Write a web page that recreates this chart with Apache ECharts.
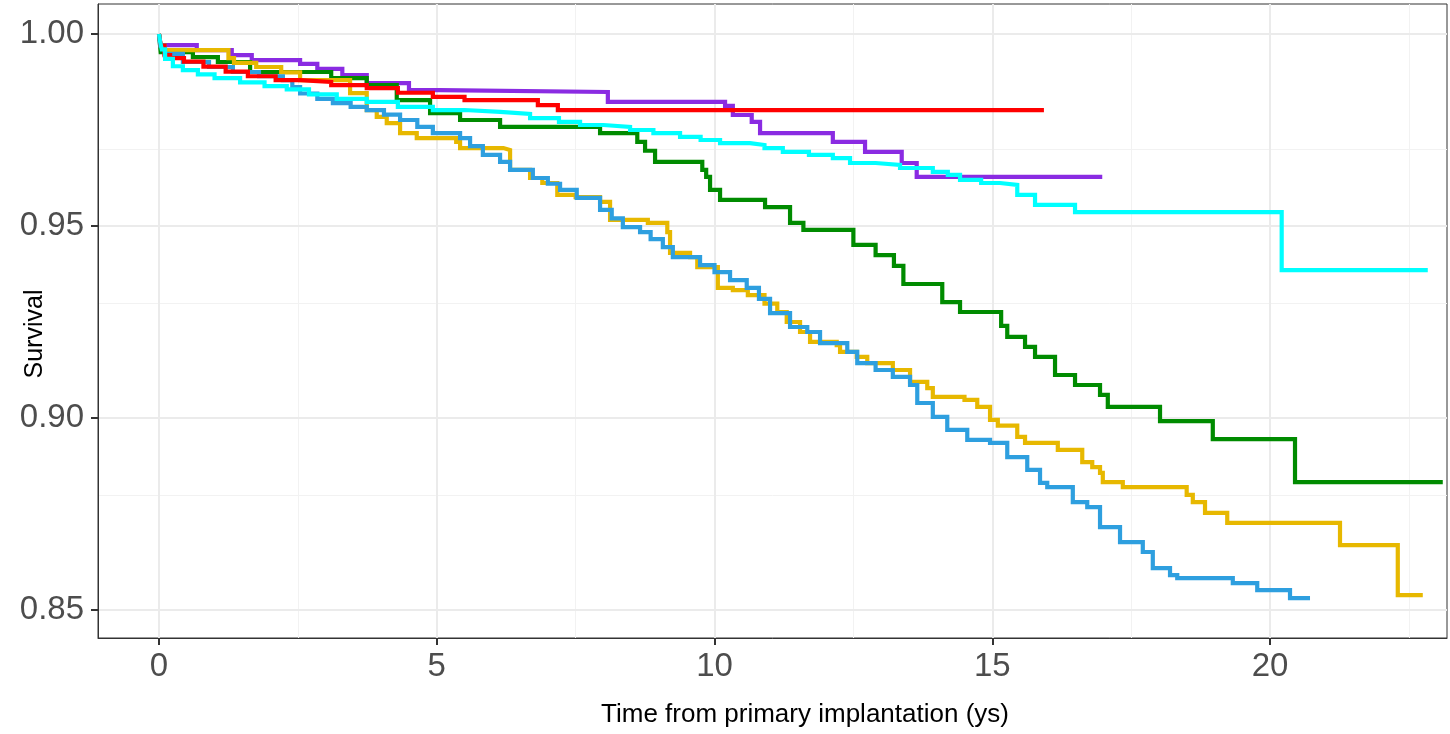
<!DOCTYPE html>
<html>
<head>
<meta charset="utf-8">
<script src="https://cdn.jsdelivr.net/npm/echarts@6/dist/echarts.min.js"></script>
<style>
html,body{margin:0;padding:0;background:#fff;}
#chart{width:1450px;height:734px;}
</style>
</head>
<body>
<div id="chart"></div>
<script>
// ---- data (time in years, survival) ----
const xTicks = [0, 5, 10, 15, 20];
const xMinor = [2.5, 7.5, 12.5, 17.5, 22.5];
const yTicks = [0.85, 0.90, 0.95, 1.00];
const yMinor = [0.875, 0.925, 0.975];

const redData = [[0,1],[0.03,0.997],[0.1,0.9945],[0.2,0.9937],[0.45,0.9928],[0.8,0.9915],[1.2,0.9902],[1.6,0.989],[2.1,0.988],[2.54,0.9875],[3.1,0.9867],[3.74,0.9859],[4.3,0.9847],[4.93,0.9836],[5.5,0.9828],[6.82,0.9815],[7.18,0.9802],[15.93,0.9802]];

const purpleData = [[0,1],[0.03,0.9971],[0.68,0.9958],[1.31,0.9945],[1.67,0.9932],[2.54,0.9922],[2.85,0.9909],[3.3,0.9893],[3.74,0.9872],[4.5,0.9854],[5.06,0.9849],[8.08,0.9823],[10.19,0.9813],[10.33,0.9789],[10.67,0.9771],[10.82,0.9742],[12.13,0.9719],[12.71,0.9693],[13.37,0.9664],[13.64,0.9628],[16.98,0.9628]];

const greenData = [[0,1],[0.03,0.9953],[0.61,0.994],[1.06,0.9927],[1.64,0.9901],[3.1,0.9885],[3.74,0.9867],[4.28,0.9828],[4.88,0.9794],[5.42,0.9776],[6.14,0.9758],[7.94,0.9742],[8.61,0.9719],[8.75,0.9696],[8.93,0.9667],[9.78,0.9646],[9.85,0.9628],[9.92,0.9594],[10.1,0.9568],[10.91,0.9549],[11.36,0.9508],[11.6,0.949],[12.5,0.9451],[12.9,0.9424],[13.23,0.9396],[13.4,0.9349],[14.1,0.9302],[14.42,0.9276],[15.16,0.924],[15.27,0.9211],[15.59,0.9185],[15.77,0.9159],[16.13,0.9112],[16.49,0.9086],[16.94,0.906],[17.08,0.9029],[18.02,0.8992],[18.97,0.8945],[20.45,0.8833],[23.11,0.8833]];

const cyanData = [[0,1],[0.02,0.998],[0.05,0.996],[0.11,0.9935],[0.25,0.9916],[0.43,0.9906],[0.7,0.9895],[1.0,0.9885],[1.46,0.9874],[1.9,0.9864],[2.3,0.9856],[2.7,0.9843],[3.2,0.9831],[3.74,0.9823],[4.3,0.981],[4.93,0.9802],[5.5,0.9797],[6.14,0.9792],[6.68,0.9781],[7.2,0.9771],[7.58,0.9763],[8.0,0.9758],[8.48,0.975],[8.9,0.9742],[9.38,0.9732],[9.75,0.9724],[10.1,0.9716],[10.64,0.9711],[10.9,0.9703],[11.23,0.9693],[11.7,0.9685],[12.13,0.9677],[12.44,0.9664],[12.9,0.9659],[13.34,0.9651],[13.93,0.9641],[14.2,0.9633],[14.42,0.962],[14.8,0.9612],[15.14,0.9607],[15.45,0.9581],[15.77,0.9555],[16.49,0.9536],[20.21,0.9385],[22.84,0.9385]];

const goldData = [[0,1],[0.03,0.997],[0.1,0.9958],[1.25,0.9937],[1.35,0.9925],[1.75,0.9914],[2.2,0.99],[2.54,0.988],[3.44,0.9846],[3.74,0.9802],[3.92,0.9784],[4.1,0.9768],[4.34,0.9742],[4.64,0.9729],[5.35,0.9719],[5.42,0.9703],[6.2,0.9698],[6.32,0.9646],[6.68,0.9625],[6.9,0.9612],[7.17,0.9581],[7.5,0.9575],[7.94,0.9563],[8.12,0.9516],[8.8,0.9508],[9.15,0.9484],[9.2,0.943],[9.56,0.9419],[9.69,0.9393],[10.06,0.9339],[10.33,0.9333],[10.6,0.932],[10.9,0.9298],[11.13,0.9276],[11.3,0.925],[11.54,0.9224],[11.72,0.9198],[12.2,0.919],[12.26,0.9172],[12.56,0.9159],[12.75,0.9143],[13.21,0.9125],[13.52,0.9094],[13.83,0.9078],[13.93,0.9055],[14.5,0.9047],[14.73,0.9029],[14.96,0.8995],[15.1,0.898],[15.45,0.8951],[15.59,0.8935],[16.18,0.8917],[16.62,0.8885],[16.8,0.8872],[16.94,0.8857],[16.99,0.8833],[17.35,0.882],[18.5,0.88],[18.61,0.8781],[18.83,0.8753],[19.23,0.8727],[21.26,0.8669],[22.3,0.8539],[22.75,0.8539]];

const blueData = [[0,1],[0.02,0.997],[0.1,0.9948],[0.43,0.9927],[0.9,0.9914],[1.33,0.9901],[1.8,0.989],[2.23,0.988],[2.4,0.9862],[2.54,0.9845],[2.85,0.9831],[3.13,0.982],[3.45,0.981],[3.74,0.9802],[4.05,0.979],[4.34,0.9776],[4.65,0.9758],[4.93,0.9742],[5.42,0.9729],[5.6,0.9708],[5.83,0.9685],[6.14,0.9667],[6.32,0.9646],[6.73,0.9625],[7.0,0.961],[7.22,0.9594],[7.52,0.9573],[7.94,0.9542],[8.15,0.952],[8.35,0.9497],[8.66,0.9484],[8.85,0.9466],[9.07,0.9445],[9.25,0.9419],[9.74,0.9398],[10.0,0.938],[10.28,0.9359],[10.58,0.9339],[10.8,0.931],[11.0,0.9273],[11.36,0.9237],[11.67,0.9224],[11.9,0.9195],[12.39,0.9172],[12.57,0.9143],[12.9,0.9125],[13.21,0.9107],[13.52,0.9086],[13.65,0.9039],[13.93,0.9003],[14.19,0.8969],[14.55,0.8943],[14.96,0.8935],[15.27,0.8898],[15.63,0.8865],[15.86,0.8831],[15.99,0.882],[16.45,0.8781],[16.71,0.8768],[16.94,0.8716],[17.3,0.8677],[17.71,0.8651],[17.89,0.8609],[18.2,0.8591],[18.33,0.8583],[19.33,0.857],[19.77,0.8552],[20.36,0.8531],[20.72,0.8531]];

const seriesDefs = [
  {name:'purple', color:'#8A2BE2', data: purpleData},
  {name:'green',  color:'#008B00', data: greenData},
  {name:'gold',   color:'#E7B800', data: goldData},
  {name:'blue',   color:'#2E9FDF', data: blueData},
  {name:'red',    color:'#FF0000', data: redData},
  {name:'cyan',   color:'#00FFFF', data: cyanData}
];

const FONT = 'Liberation Sans';
const chart = echarts.init(document.getElementById('chart'), null, {renderer:'canvas'});

const gridLines = [];
xMinor.forEach(v => gridLines.push({xAxis: v, lineStyle:{color:'#F2F2F2', width:1, type:'solid'}}));
yMinor.forEach(v => gridLines.push({yAxis: v, lineStyle:{color:'#F2F2F2', width:1, type:'solid'}}));
xTicks.forEach(v => gridLines.push({xAxis: v, lineStyle:{color:'#EBEBEB', width:2, type:'solid'}}));
yTicks.forEach(v => gridLines.push({yAxis: v, lineStyle:{color:'#EBEBEB', width:2, type:'solid'}}));

const series = [{
  type:'line', name:'grid', data:[], z:0, silent:true,
  markLine:{z:0, silent:true, symbol:['none','none'], animation:false, label:{show:false}, emphasis:{disabled:true}, data: gridLines}
}].concat(seriesDefs.map((s, i) => ({
  type:'line', name:s.name, data:s.data, step:'end', showSymbol:false, symbol:'none',
  z: 2 + i, silent:true,
  lineStyle:{color:s.color, width:4.2, cap:'butt', join:'miter'},
  itemStyle:{color:s.color}
})));

chart.setOption({
  animation:false,
  backgroundColor:'#ffffff',
  grid:{left:98, right:3, top:4, bottom:96, outerBoundsMode:'none', containLabel:false,
        show:true, borderColor:'#333333', borderWidth:1, backgroundColor:'transparent'},
  xAxis:{
    type:'value', min:-1.098, max:23.186,
    name:'Time from primary implantation (ys)', nameLocation:'middle', nameGap:64, nameMoveOverlap:false,
    nameTextStyle:{fontFamily:FONT, fontSize:26, color:'#000', padding:[0,0,0,65]},
    axisLine:{show:true, onZero:false, lineStyle:{color:'#333333', width:1}},
    axisTick:{show:true, inside:false, customValues:xTicks, length:7, lineStyle:{color:'#333333', width:2}},
    axisLabel:{customValues:xTicks, fontFamily:FONT, fontSize:33, color:'#4D4D4D', margin:12},
    splitLine:{show:false}
  },
  yAxis:{
    type:'value', min:0.84271, max:1.00781,
    name:'Survival', nameLocation:'middle', nameGap:50, nameMoveOverlap:false,
    nameTextStyle:{fontFamily:FONT, fontSize:25, color:'#000', padding:[0,26,0,0]},
    axisLine:{show:true, onZero:false, lineStyle:{color:'#333333', width:1}},
    axisTick:{show:true, inside:false, customValues:yTicks, length:7, lineStyle:{color:'#333333', width:2}},
    axisLabel:{customValues:yTicks, fontFamily:FONT, fontSize:33, color:'#4D4D4D', margin:14,
      formatter: v => Number(v).toFixed(2)},
    splitLine:{show:false}
  },
  series: series
});
</script>
</body>
</html>
